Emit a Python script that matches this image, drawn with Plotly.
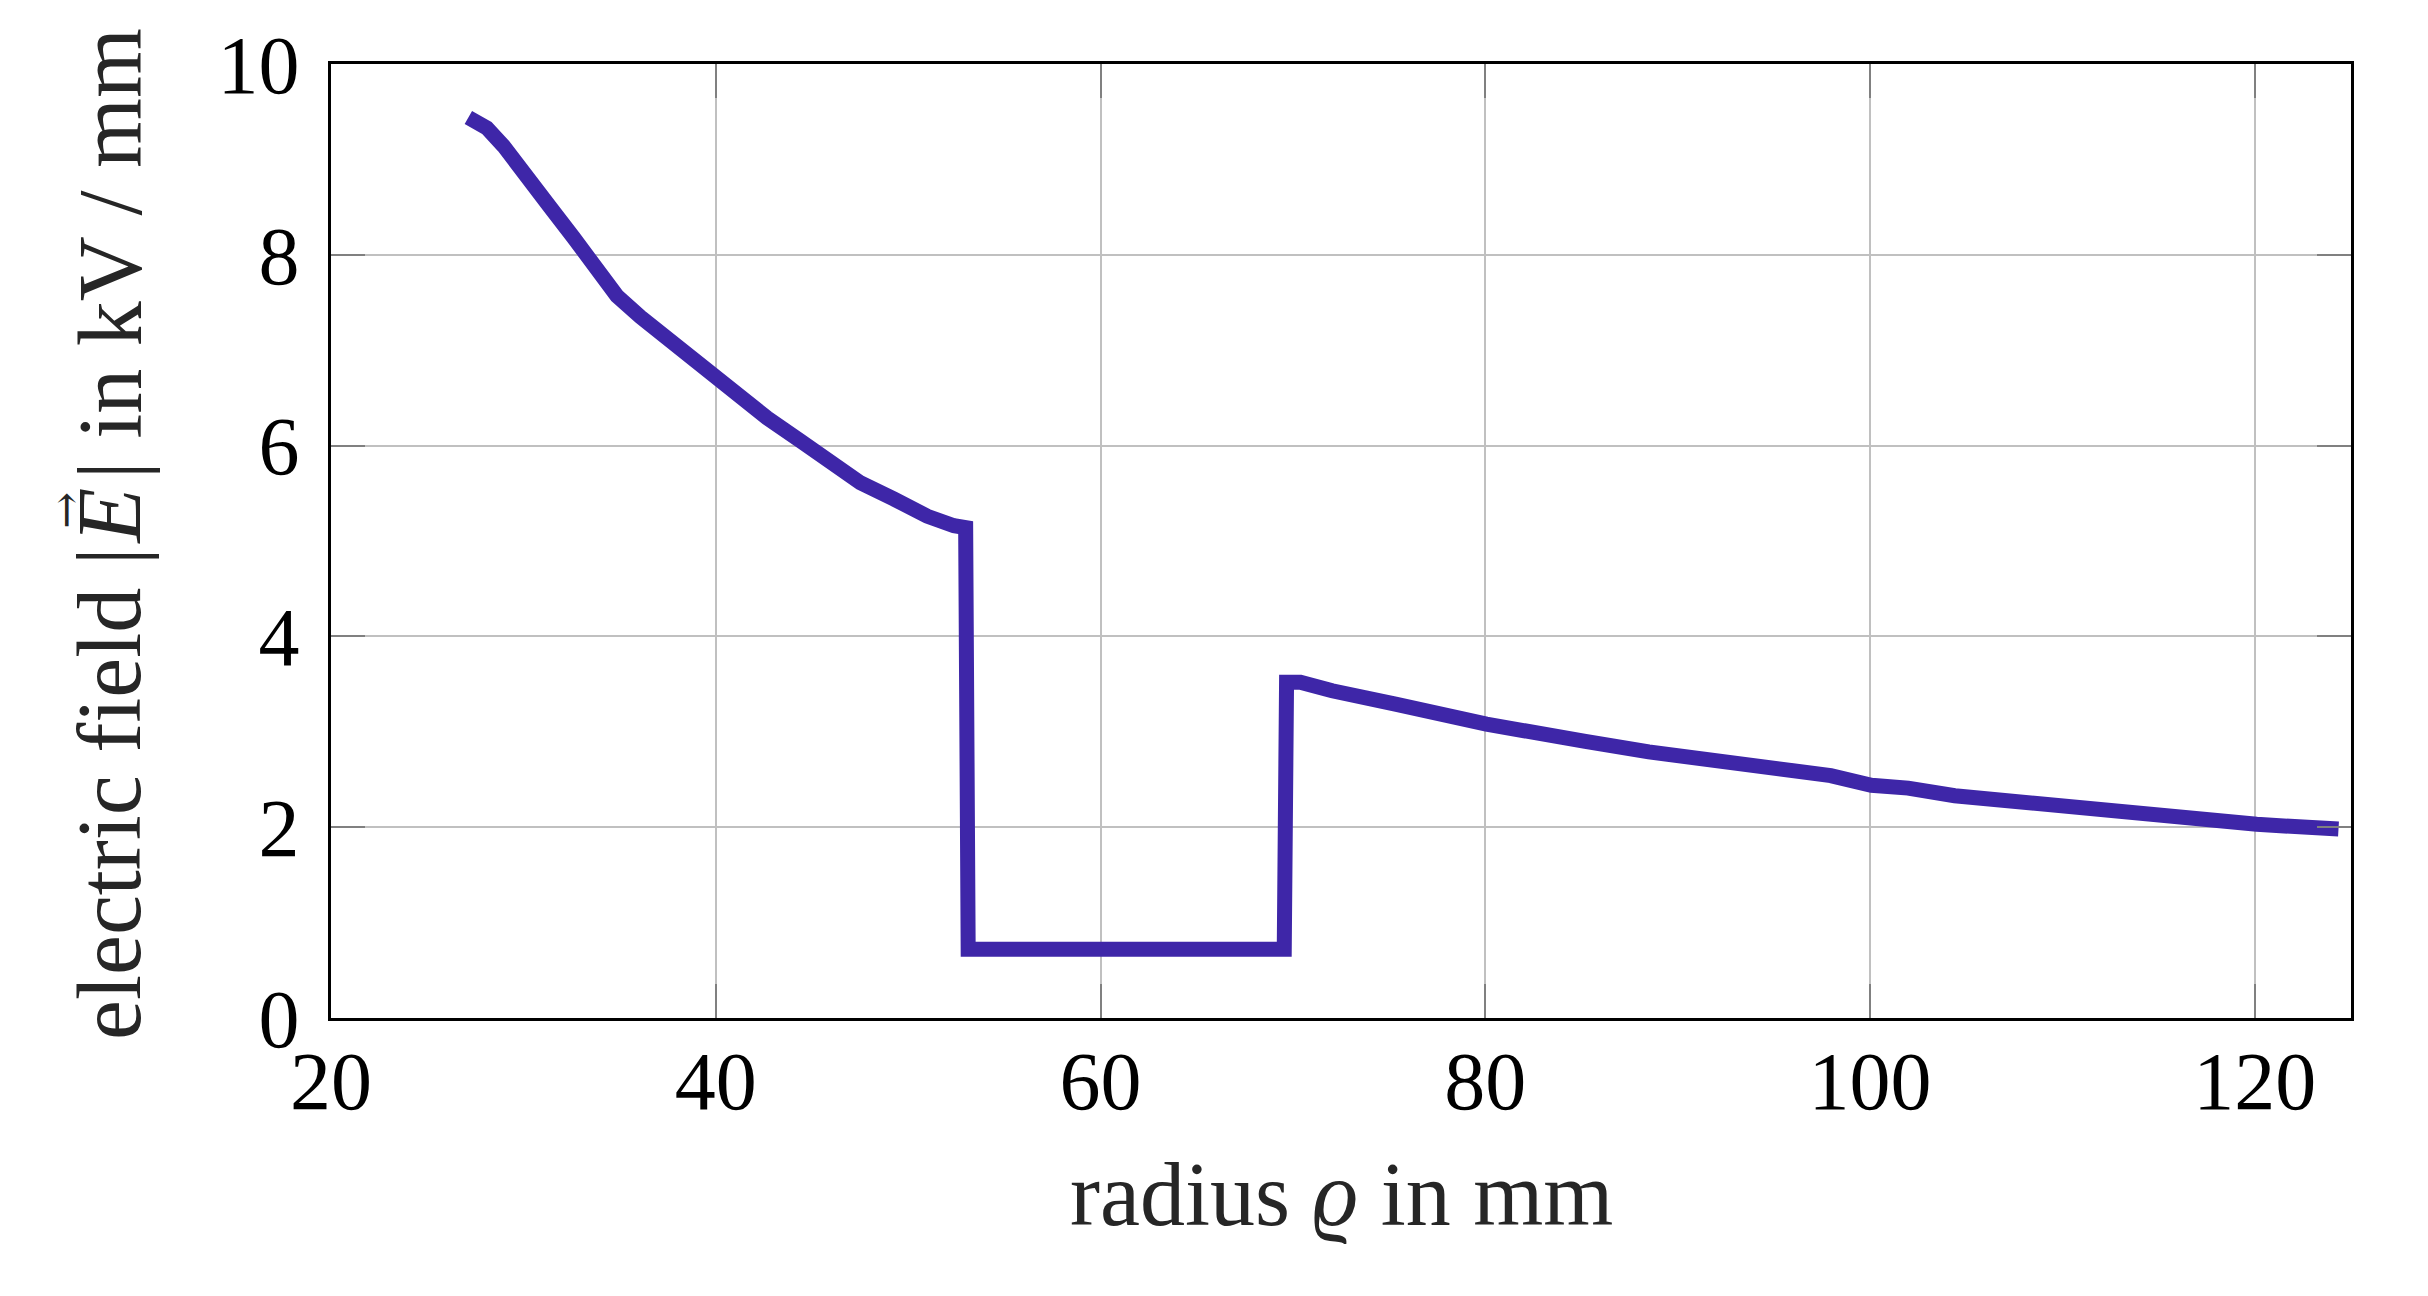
import plotly.graph_objects as go

# radius in mm and electric field magnitude |E| in kV/mm
radius = [27.14, 28.10, 28.97, 30.00, 31.39, 32.61, 33.82, 34.86, 36.08, 37.81,
          40.00, 41.28, 42.67, 44.40, 46.13, 47.52, 49.26, 50.99, 52.38, 52.99,
          53.12, 69.55, 69.67, 70.39, 72.04, 73.68, 75.33, 80.06, 82.33, 85.20,
          88.50, 90.14, 92.20, 95.08, 96.32, 97.96, 100.07, 101.98, 104.40,
          108.92, 114.12, 120.10, 124.35]
efield = [9.44, 9.33, 9.14, 8.84, 8.50, 8.18, 7.83, 7.57, 7.35, 7.07,
          6.68, 6.48, 6.29, 6.05, 5.78, 5.61, 5.44, 5.26, 5.16, 5.14,
          0.72, 0.72, 3.52, 3.52, 3.43, 3.38, 3.29, 3.08, 2.99, 2.90,
          2.79, 2.75, 2.68, 2.61, 2.59, 2.54, 2.44, 2.41, 2.33,
          2.24, 2.14, 2.03, 1.98]

x_ticks = [20, 40, 60, 80, 100, 120]
y_ticks = [0, 2, 4, 6, 8, 10]

FONT = "Liberation Serif"
TITLE_SIZE = 90
TITLE_COLOR = "#262626"

fig = go.Figure()
fig.add_trace(go.Scatter(
    x=radius, y=efield, mode="lines",
    line=dict(color="#3E26A8", width=15),
    showlegend=False, hoverinfo="x+y",
))

axis_common = dict(
    showline=True, linecolor="black", linewidth=3, mirror="all",
    showgrid=True, gridcolor="#c0c0c0", gridwidth=2,
    ticks="inside", ticklen=34, tickwidth=2, tickcolor="#808080",
    zeroline=False,
    tickfont=dict(family=FONT, size=82, color="black"),
)

fig.update_xaxes(range=[20, 125], tickvals=x_ticks,
                 ticktext=[str(v) for v in x_ticks],
                 ticklabelstandoff=-10, **axis_common)
fig.update_yaxes(range=[0, 10], tickvals=y_ticks,
                 ticktext=[str(v) for v in y_ticks],
                 ticklabelstandoff=12, **axis_common)

tfont = dict(family=FONT, size=TITLE_SIZE, color=TITLE_COLOR)

# x-axis title
fig.add_annotation(text="radius <i>ϱ</i> in mm", xref="paper", yref="paper",
                   x=0.5, y=-0.131, xanchor="center", yanchor="top",
                   showarrow=False, font=tfont)

# y-axis title, assembled from pieces so the vector arrow sits over E
YT_X = -0.1094
fig.add_annotation(text="electric field |", xref="paper", yref="paper",
                   x=YT_X, y=0.4953, xanchor="center", yanchor="top",
                   textangle=-90, showarrow=False, font=tfont)
fig.add_annotation(text="<i>E</i>", xref="paper", yref="paper",
                   x=YT_X, y=0.5255, xanchor="center", yanchor="middle",
                   textangle=-90, showarrow=False, font=tfont)
fig.add_annotation(text="| in kV / mm", xref="paper", yref="paper",
                   x=YT_X, y=0.5620, xanchor="center", yanchor="bottom",
                   textangle=-90, showarrow=False, font=tfont)
fig.add_annotation(text="→", xref="paper", yref="paper",
                   x=(66 - 331) / 2020, y=(1018 - 508) / 959,
                   xanchor="center", yanchor="middle",
                   textangle=-90, showarrow=False,
                   font=dict(family="DejaVu Serif", size=44, color=TITLE_COLOR))

fig.update_layout(
    width=2412, height=1280,
    margin=dict(l=323, r=69, t=51, b=270),
    paper_bgcolor="white", plot_bgcolor="white",
)

fig.write_html("out.html")
